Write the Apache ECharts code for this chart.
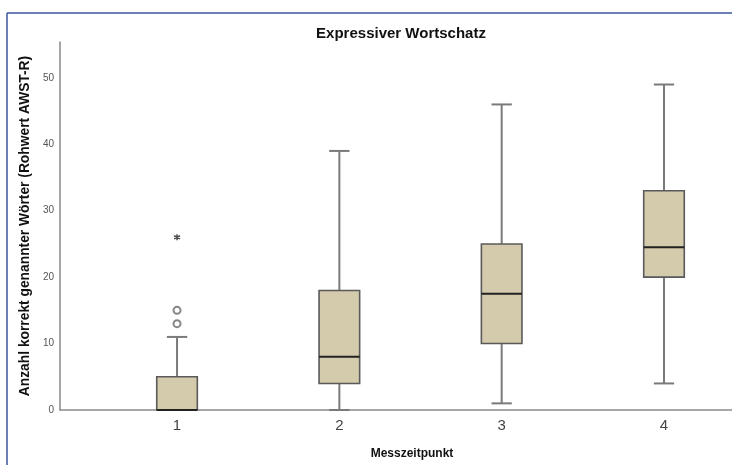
<!DOCTYPE html>
<html>
<head>
<meta charset="utf-8">
<script src="https://cdn.jsdelivr.net/npm/echarts@6/dist/echarts.min.js"></script>
<style>
html,body{margin:0;padding:0;background:#fff;}
#chart{width:732px;height:465px;}
</style>
</head>
<body>
<div id="chart"></div>
<script>
// ---- data ----
const categories = [1, 2, 3, 4];
const whiskerMin = [0, 0, 1, 4];
const q1 = [0, 4, 10, 20];
const median = [0, 8, 17.5, 24.5];
const q3 = [5, 18, 25, 33];
const whiskerMax = [11, 39, 46, 49];
const outliers = [[1, 13], [1, 15]];
const extremes = [[1, 26]];
const yTicks = [0, 10, 20, 30, 40, 50];

const boxData = categories.map((c, i) => [c, whiskerMin[i], q1[i], median[i], q3[i], whiskerMax[i]]);

const FONT = '"Liberation Sans", Arial, sans-serif';
const chart = echarts.init(document.getElementById('chart'), null, {renderer: 'canvas'});

function renderBox(params, api) {
  const x = api.value(0);
  const pMin = api.coord([x, api.value(1)]);
  const pQ1 = api.coord([x, api.value(2)]);
  const pMed = api.coord([x, api.value(3)]);
  const pQ3 = api.coord([x, api.value(4)]);
  const pMax = api.coord([x, api.value(5)]);
  const unit = api.size([1, 0])[0];
  const halfW = unit * 0.125;
  const capHalf = halfW * 0.5;
  const cx = pMed[0];
  const wStyle = {stroke: '#7a7a7a', lineWidth: 2, fill: null};
  return {
    type: 'group',
    children: [
      {type: 'line', shape: {x1: cx, y1: pMax[1], x2: cx, y2: pQ3[1]}, style: wStyle},
      {type: 'line', shape: {x1: cx, y1: pQ1[1], x2: cx, y2: pMin[1]}, style: wStyle},
      {type: 'line', shape: {x1: cx - capHalf, y1: pMax[1], x2: cx + capHalf, y2: pMax[1]}, style: wStyle},
      {type: 'line', shape: {x1: cx - capHalf, y1: pMin[1], x2: cx + capHalf, y2: pMin[1]}, style: wStyle},
      {type: 'rect', shape: {x: cx - halfW, y: pQ3[1], width: halfW * 2, height: pQ1[1] - pQ3[1]},
        style: {fill: '#d4cbad', stroke: '#5a5a5a', lineWidth: 1.6}},
      {type: 'line', shape: {x1: cx - halfW, y1: pMed[1], x2: cx + halfW, y2: pMed[1]},
        style: {stroke: '#222', lineWidth: 2}}
    ]
  };
}

const option = {
  backgroundColor: '#ffffff',
  animation: false,
  title: {
    text: 'Expressiver Wortschatz',
    left: 396, top: 21, textAlign: 'center',
    textStyle: {fontFamily: FONT, fontSize: 15, fontWeight: 'bold', color: '#111'}
  },
  grid: {left: 60, right: 0, top: 42, bottom: 50.5, containLabel: false},
  xAxis: {
    type: 'value', min: 0.279, max: 4.419,
    name: 'Messzeitpunkt', nameLocation: 'middle', nameGap: 38,
    nameTextStyle: {fontFamily: FONT, fontSize: 12, fontWeight: 'bold', color: '#111', padding: [0, 0, 0, 32]},
    axisLine: {show: true, lineStyle: {color: '#8a8a8a', width: 1.5}},
    axisTick: {show: false},
    splitLine: {show: false},
    axisLabel: {customValues: categories, fontFamily: FONT, fontSize: 15, color: '#444', margin: 8}
  },
  yAxis: {
    type: 'value', min: 0, max: 55.4,
    name: 'Anzahl korrekt genannter Wörter (Rohwert AWST-R)', nameLocation: 'middle', nameGap: 28,
    nameTextStyle: {fontFamily: FONT, fontSize: 13.8, fontWeight: 'bold', color: '#111'},
    axisLine: {show: true, lineStyle: {color: '#8a8a8a', width: 1.5}},
    axisTick: {show: false},
    splitLine: {show: false},
    axisLabel: {customValues: yTicks, fontFamily: FONT, fontSize: 10, color: '#555', margin: 6}
  },
  graphic: [
    {type: 'line', shape: {x1: 7, y1: 13, x2: 732, y2: 13}, style: {stroke: '#3a55a0', lineWidth: 1.5}},
    {type: 'line', shape: {x1: 7, y1: 13, x2: 7, y2: 465}, style: {stroke: '#3a55a0', lineWidth: 1.5}}
  ],
  series: [
    {type: 'custom', renderItem: renderBox, data: boxData, encode: {x: 0, y: [1, 2, 3, 4, 5]}, clip: false, z: 3},
    {type: 'scatter', data: outliers, symbol: 'emptyCircle', symbolSize: 7,
      itemStyle: {color: '#666', borderColor: '#666', borderWidth: 1.5}, z: 4},
    {type: 'scatter', data: extremes,
      symbol: 'path://M5,0 L5,10 M0.67,2.5 L9.33,7.5 M0.67,7.5 L9.33,2.5', symbolSize: 6,
      itemStyle: {color: '#222', borderColor: '#222', borderWidth: 1.5}, z: 4}
  ]
};
chart.setOption(option);
</script>
</body>
</html>
